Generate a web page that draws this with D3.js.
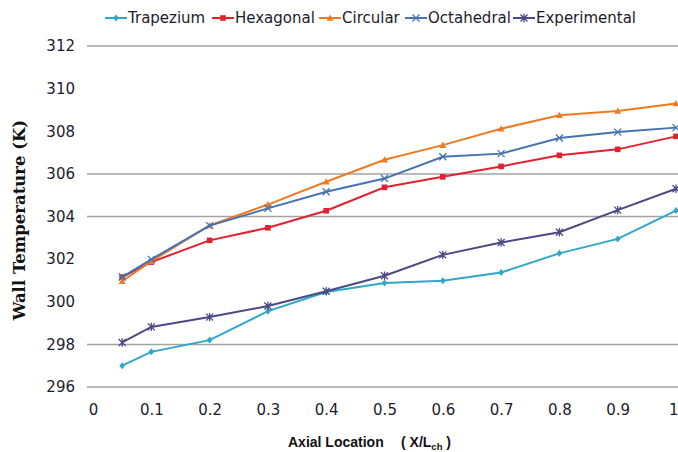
<!DOCTYPE html>
<html><head><meta charset="utf-8">
<script src="https://cdn.jsdelivr.net/npm/d3@7"></script>
<style>body{margin:0;background:#fff}svg{display:block}</style>
</head><body>
<script>
const xValues = [0.05, 0.1, 0.2, 0.3, 0.4, 0.5, 0.6, 0.7, 0.8, 0.9, 1.0];
const trapezium   = [297.0, 297.65, 298.2, 299.56, 300.46, 300.88, 300.98, 301.37, 302.27, 302.95, 304.28];
const hexagonal   = [301.16, 301.86, 302.88, 303.47, 304.27, 305.37, 305.86, 306.35, 306.87, 307.15, 307.76];
const circular    = [300.96, 301.9, 303.58, 304.56, 305.63, 306.66, 307.35, 308.12, 308.75, 308.95, 309.3];
const octahedral  = [301.16, 301.99, 303.57, 304.38, 305.16, 305.78, 306.8, 306.95, 307.68, 307.96, 308.17];
const experimental= [298.09, 298.82, 299.28, 299.8, 300.49, 301.22, 302.2, 302.78, 303.26, 304.3, 305.3];
const seriesNames = ["Trapezium", "Hexagonal", "Circular", "Octahedral", "Experimental"];
const xTicks = [0, 0.1, 0.2, 0.3, 0.4, 0.5, 0.6, 0.7, 0.8, 0.9, 1];
const yTicks = [296, 298, 300, 302, 304, 306, 308, 310, 312];
const gridValues = [296, 298, 304, 306, 312];

const W = 678, H = 452;
const colors = ["#2EA8C8", "#E2212E", "#F07A22", "#4572B0", "#4A4985"];
const markers = ["diamond", "square", "triangle", "x", "star"];
const allSeries = [trapezium, hexagonal, circular, octahedral, experimental];
const sans = "DejaVu Sans, Verdana, sans-serif";

const svg = d3.select("body").append("svg").attr("width", W).attr("height", H);
const x = d3.scaleLinear().domain([0, 1]).range([93, 676]);
const y = d3.scaleLinear().domain([296, 312]).range([387, 46]);

// gridlines
svg.append("g").selectAll("line").data(gridValues).join("line")
  .attr("x1", 87).attr("x2", W).attr("y1", d => y(d)).attr("y2", d => y(d))
  .attr("stroke", "#A3A3A3").attr("stroke-width", 1.5);

// y axis labels
const yAxis = d3.axisLeft(y).tickValues(yTicks).tickSize(0).tickPadding(0).tickFormat(d3.format("d"));
const gy = svg.append("g").attr("transform", "translate(75,0)").call(yAxis);
gy.select(".domain").remove();
gy.selectAll("text").attr("font-family", sans).attr("font-size", 15).attr("fill", "#1c1c2c");

// x axis labels
const xAxis = d3.axisBottom(x).tickValues(xTicks).tickSize(0).tickPadding(0).tickFormat(d => d === 0 ? "0" : d === 1 ? "1" : d3.format(".1f")(d));
const gx = svg.append("g").attr("transform", "translate(0,404)").call(xAxis);
gx.select(".domain").remove();
gx.selectAll("text").attr("font-family", sans).attr("font-size", 15).attr("fill", "#1c1c2c");
gx.selectAll("text").filter(d => d === 1).attr("text-anchor", "end").attr("x", 2);

// axis titles
svg.append("text").attr("transform", "translate(25,220) rotate(-90)")
  .attr("text-anchor", "middle").attr("font-family", "DejaVu Serif, serif")
  .attr("font-weight", "bold").attr("font-size", 16.5).attr("fill", "#111").text("Wall Temperature (K)");
const xt = svg.append("text").attr("y", 447)
  .attr("font-family", "Liberation Sans, Arial, sans-serif").attr("font-weight", "bold").attr("font-size", 14).attr("fill", "#111");
xt.append("tspan").attr("x", 288).text("Axial Location");
xt.append("tspan").attr("x", 401).text("( X/L");
xt.append("tspan").attr("font-size", 9.5).attr("dy", 3).text("ch");
xt.append("tspan").attr("dy", -3).text(" )");

function drawMarker(g, type, color, size) {
  const s = size;
  if (type === "diamond") g.append("path").attr("d", `M0,${-s}L${s*0.8},0L0,${s}L${-s*0.8},0Z`).attr("fill", color);
  else if (type === "square") g.append("rect").attr("x", -s*0.8).attr("y", -s*0.8).attr("width", s*1.6).attr("height", s*1.6).attr("fill", color);
  else if (type === "triangle") g.append("path").attr("d", `M0,${-s}L${s},${s*0.8}L${-s},${s*0.8}Z`).attr("fill", color);
  else if (type === "x") g.append("path").attr("d", `M${-s},${-s}L${s},${s}M${-s},${s}L${s},${-s}`).attr("stroke", color).attr("stroke-width", 1.3);
  else if (type === "star") g.append("path").attr("d", `M${-s},${-s}L${s},${s}M${-s},${s}L${s},${-s}M0,${-s*1.2}L0,${s*1.2}`).attr("stroke", color).attr("stroke-width", 1.3);
}

const line = d3.line().x((d, i) => x(xValues[i])).y(d => y(d));
allSeries.forEach((vals, si) => {
  const g = svg.append("g");
  g.append("path").datum(vals).attr("d", line).attr("fill", "none")
    .attr("stroke", colors[si]).attr("stroke-width", 2);
  vals.forEach((v, i) => {
    const mg = g.append("g").attr("transform", `translate(${x(xValues[i])},${y(v)})`);
    drawMarker(mg, markers[si], colors[si], 3.5);
  });
});

// legend
const legendX = [105, 212, 319, 405, 513];
seriesNames.forEach((name, i) => {
  const g = svg.append("g").attr("transform", `translate(${legendX[i]},18)`);
  g.append("line").attr("x1", 0).attr("x2", 22).attr("stroke", colors[i]).attr("stroke-width", 2);
  const mg = g.append("g").attr("transform", "translate(11,0)");
  drawMarker(mg, markers[i], colors[i], 3.5);
  g.append("text").attr("x", 23).attr("y", 4.5).attr("font-family", sans)
    .attr("font-size", 15).attr("fill", "#1c1c2c").text(name);
});
</script>
</body></html>
